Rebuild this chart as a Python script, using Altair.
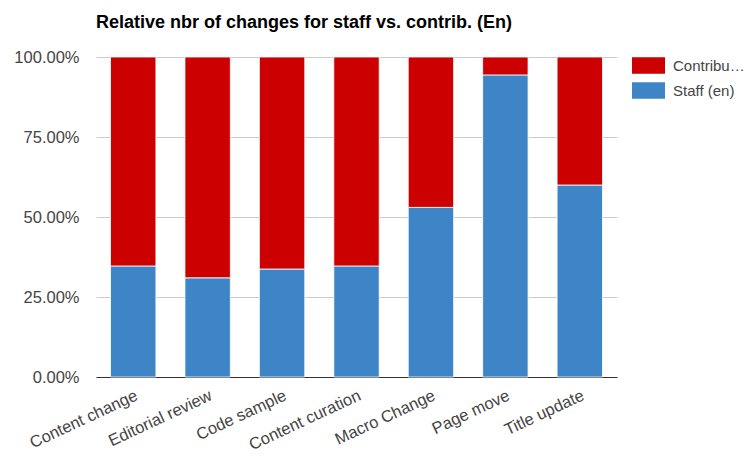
import altair as alt
import pandas as pd

categories = ["Content change", "Editorial review", "Code sample", "Content curation",
              "Macro Change", "Page move", "Title update"]
staff = [0.347, 0.310, 0.3375, 0.347, 0.530, 0.944, 0.600]
contrib = [0.653, 0.690, 0.6625, 0.653, 0.470, 0.056, 0.400]
series = ["Contributors (en)", "Staff (en)"]
colors = ["#cc0000", "#3d85c6"]

rows = []
for c, s, k in zip(categories, staff, contrib):
    rows.append({"cat": c, "series": "Staff (en)", "value": s, "ord": 0})
    rows.append({"cat": c, "series": "Contributors (en)", "value": k, "ord": 1})
df = pd.DataFrame(rows)

FONT = "Liberation Sans"

chart = alt.Chart(df).mark_bar(stroke="white", strokeWidth=0.8).encode(
    x=alt.X("cat:N", sort=categories, title=None,
            scale=alt.Scale(paddingInner=0.39, paddingOuter=0.195),
            axis=alt.Axis(labelAngle=-25, labelFontSize=16.5, labelColor="#444",
                          labelFont=FONT, ticks=False, domainColor="#333",
                          labelPadding=10, labelLimit=300)),
    y=alt.Y("value:Q", stack=True, title=None,
            scale=alt.Scale(domain=[0, 1], nice=False),
            axis=alt.Axis(format=".2%", values=[0, 0.25, 0.5, 0.75, 1],
                          labelFontSize=16.5, labelColor="#444", labelFont=FONT,
                          ticks=False, domain=False, gridColor="#cccccc",
                          labelPadding=17)),
    color=alt.Color("series:N", scale=alt.Scale(domain=series, range=colors),
                    legend=alt.Legend(title=None, orient="none", legendX=536, legendY=-8,
                                      symbolType="M-1,-0.5H1V0.5H-1Z", symbolSize=1089,
                                      symbolStrokeWidth=0, symbolOpacity=1,
                                      labelFontSize=15, labelFont=FONT, labelColor="#444",
                                      labelOffset=8, rowPadding=-9, padding=0,
                                      labelExpr="datum.label == 'Contributors (en)' ? 'Contribu…' : datum.label")),
    order=alt.Order("ord:Q"),
).properties(
    width=521, height=320,
    title=alt.TitleParams("Relative nbr of changes for staff vs. contrib. (En)",
                          anchor="start", frame="group", fontSize=18, font=FONT,
                          fontWeight="bold", color="#000", offset=17),
    autosize=alt.AutoSizeParams(type="none"),
    padding={"left": 88, "top": 49, "right": 129, "bottom": 78},
).configure_view(stroke=None)

chart.save("out.html", embed_options={"renderer": "svg", "actions": False})
